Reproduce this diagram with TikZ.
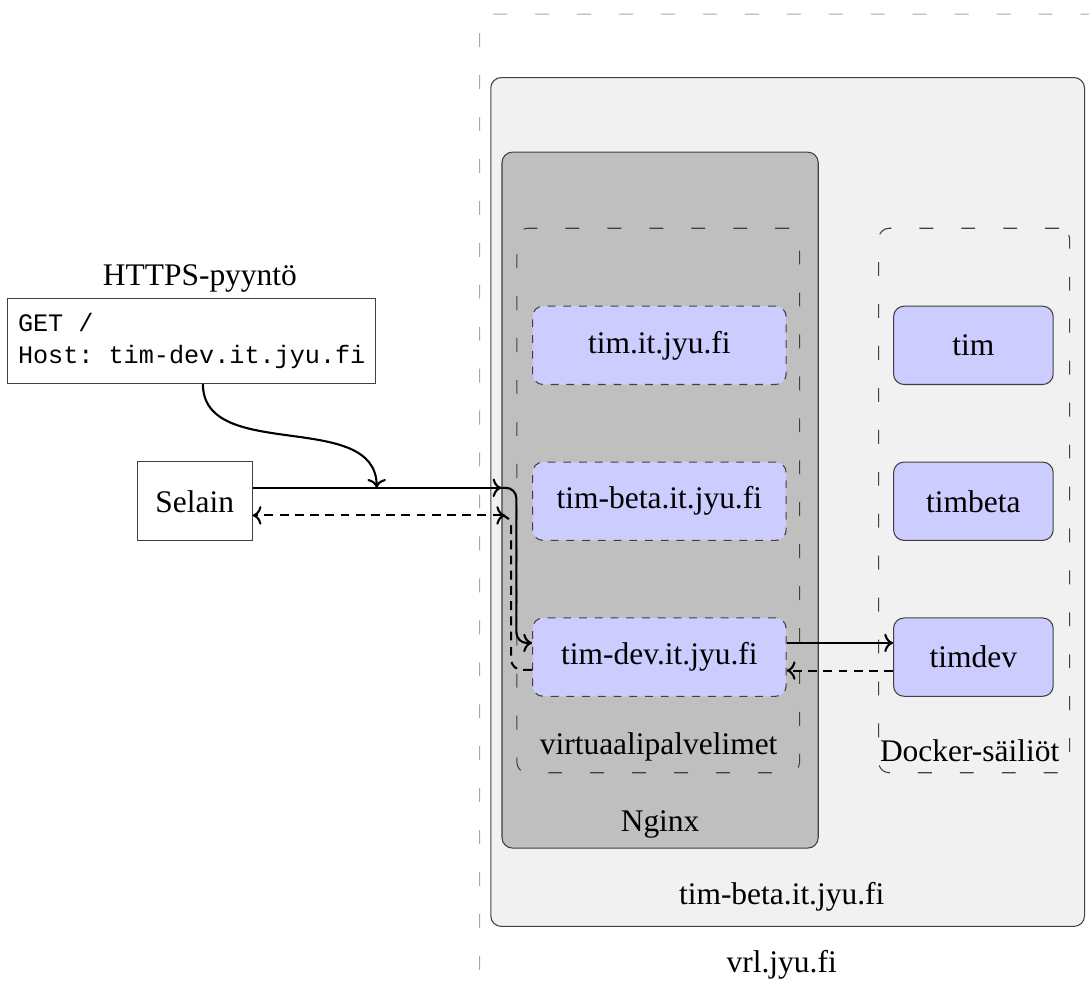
\documentclass[12pt,tikz,border=0pt]{standalone}
\usepackage{fontspec}
\setmainfont{Liberation Serif}
\setmonofont{Liberation Mono}
\usetikzlibrary{arrows.meta,calc,positioning}
\definecolor{vhostfill}{RGB}{204,204,255}
\definecolor{hostfill}{RGB}{241,241,241}
\definecolor{nginxfill}{RGB}{191,191,191}
\begin{document}
\begin{tikzpicture}[
	box/.style={draw=black!75, rounded corners=4pt, inner sep=0pt},
	area/.style={rounded corners=4pt, inner sep=0pt, dash pattern=on 5.3pt off 10.7pt},
	vhost/.style={box, dashed, fill=vhostfill, minimum width=3.4cm, minimum height=1.05cm},
	cont/.style={box, fill=vhostfill, minimum width=2.14cm, minimum height=1.05cm},
	req/.style={thick, ->},
	resp/.style={thick, dash pattern=on 3.4pt off 2.4pt, ->}]
	\useasboundingbox (0,0) rectangle (14.6,13.18);
	\node[area, draw=black!35, minimum width=10.07cm, minimum height=13.99cm] (vrl) at (11.465,5.995) {};
	\node[box, fill=hostfill, minimum width=7.96cm, minimum height=11.38cm] (host) at (10.56,6.45) {};
	\node[box, fill=nginxfill, minimum width=4.24cm, minimum height=9.33cm] (nginx) at (8.85,6.475) {};
	\node[area, draw=black!75, minimum width=3.79cm, minimum height=7.3cm] (vhosts) at (8.825,6.47) {};
	\node[area, draw=black!75, minimum width=2.56cm, minimum height=7.3cm] (docker) at (13.06,6.47) {};

	% labels of the areas
	\node (vrllabel) at (10.48,0.24) {vrl.jyu.fi};
	\node (hostlabel) at (10.48,1.15) {tim-beta.it.jyu.fi};
	\node (nginxlabel) at (8.85,2.12) {Nginx};
	\node (vhostslabel) at (8.83,3.16) {virtuaalipalvelimet};
	\node (dockerlabel) at (13.0,3.12) {Docker-säiliöt};

	\node[vhost] (vtim) at (8.84,8.55) {tim.it.jyu.fi};
	\node[vhost] (vbeta) at (8.84,6.46) {tim-beta.it.jyu.fi};
	\node[vhost] (vdev) at (8.84,4.37) {tim-dev.it.jyu.fi};
	\node[cont] (ctim) at (13.05,8.55) {tim};
	\node[cont] (cbeta) at (13.05,6.46) {timbeta};
	\node[cont] (cdev) at (13.05,4.37) {timdev};

	\node (httplabel) at (2.68,9.44) {HTTPS-pyyntö};
	\node[draw=black!75, minimum width=4.92cm, minimum height=1.14cm, align=left,
		font=\fontsize{9.6}{12.2}\selectfont\ttfamily] (httpreq) at (2.57,8.61) {GET /\\Host: tim-dev.it.jyu.fi};
	\node[draw=black!75, minimum width=1.54cm, minimum height=1.06cm] (selain) at (2.61,6.46) {Selain};

	\coordinate (s1) at ($(selain.east)+(0,0.18)$);
	\coordinate (r1) at ($(selain.east)+(0,-0.19)$);
	\coordinate (hit) at (5.05,6.64);
	\draw[req] ($(httpreq.south)+(0.15,0)$) to[out=-90,in=90] (hit);
	\draw[req] (s1) -- (s1 -| nginx.west);
	\draw[req, rounded corners=4pt] (s1 -| nginx.west) -- (s1 -| vhosts.west) |- ($(vdev.west)+(0,0.19)$);
	\draw[resp, rounded corners=4pt] ($(vdev.west)+(0,-0.17)$) -- ++(-0.28,0) |- ($(r1 -| nginx.west)+(0.05,0)$);
	\draw[resp] (r1 -| nginx.west) -- (r1);
	\draw[req] ($(vdev.east)+(0,0.19)$) -- ($(cdev.west)+(0,0.19)$);
	\draw[resp] ($(cdev.west)+(0,-0.18)$) -- ($(vdev.east)+(0,-0.18)$);
\end{tikzpicture}
\end{document}
